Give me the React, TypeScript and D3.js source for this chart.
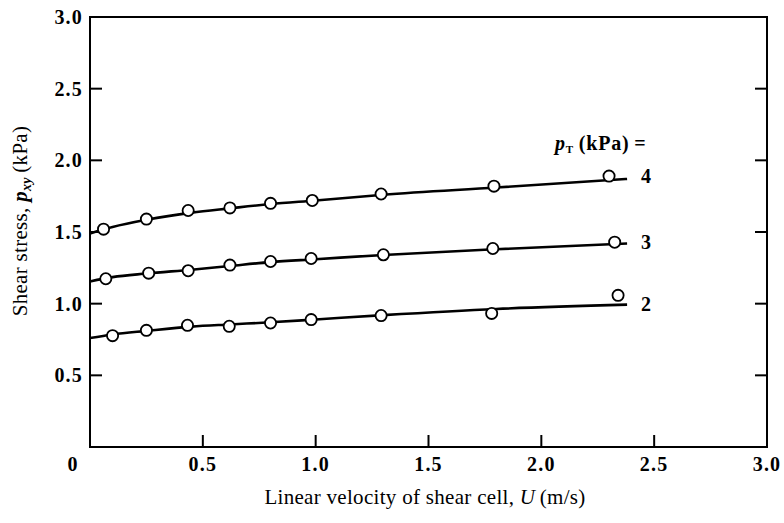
import React from "react";
import * as d3 from "d3";

// measured points, U (m/s) vs p_xy (kPa), one list per normal stress
const pressures = ["4", "3", "2"];
const uPts4 = [0.06, 0.25, 0.435, 0.62, 0.8, 0.985, 1.29, 1.79, 2.3];
const pPts4 = [1.52, 1.59, 1.65, 1.668, 1.7, 1.72, 1.765, 1.82, 1.89];
const uPts3 = [0.07, 0.26, 0.435, 0.62, 0.8, 0.98, 1.3, 1.785, 2.325];
const pPts3 = [1.174, 1.213, 1.23, 1.269, 1.294, 1.315, 1.341, 1.385, 1.429];
const uPts2 = [0.1, 0.25, 0.432, 0.617, 0.8, 0.98, 1.29, 1.78, 2.34];
const pPts2 = [0.777, 0.814, 0.849, 0.842, 0.865, 0.889, 0.917, 0.932, 1.058];

// fitted curves drawn through the points
const uFit = [0, 0.1, 0.25, 0.45, 0.62, 0.8, 1.0, 1.3, 1.8, 2.38];
const pFit4 = [1.49, 1.535, 1.585, 1.635, 1.665, 1.695, 1.72, 1.76, 1.81, 1.87];
const pFit3 = [1.155, 1.185, 1.21, 1.237, 1.263, 1.29, 1.31, 1.34, 1.38, 1.42];
const pFit2 = [0.76, 0.785, 0.81, 0.84, 0.855, 0.87, 0.89, 0.92, 0.963, 0.993];

const xTicks = [0, 0.5, 1.0, 1.5, 2.0, 2.5, 3.0];
const yTicks = [0.5, 1.0, 1.5, 2.0, 2.5, 3.0];
const innerTicks = [0.5, 1.0, 1.5, 2.0, 2.5];

const W = 784;
const H = 523;
const left = 90, right = 767, top = 17, bottom = 447;
const font = "'Liberation Serif', 'DejaVu Serif', serif";

export default function App() {
  const x = d3.scaleLinear().domain([0, 3]).range([left, right]);
  const y = d3.scaleLinear().domain([0, 3]).range([bottom, top]);

  const series = [
    { label: pressures[0], u: uPts4, p: pPts4, fit: pFit4 },
    { label: pressures[1], u: uPts3, p: pPts3, fit: pFit3 },
    { label: pressures[2], u: uPts2, p: pPts2, fit: pFit2 },
  ];

  const line = d3
    .line<number>()
    .x((_, i) => x(uFit[i]))
    .y((d) => y(d))
    .curve(d3.curveMonotoneX);

  const tickLen = 12;

  return (
    <svg
      width={W}
      height={H}
      style={{ position: "absolute", left: 0, top: 0, background: "#fff" }}
      fontFamily={font}
    >
      {/* frame */}
      <rect
        x={left}
        y={top}
        width={right - left}
        height={bottom - top}
        fill="none"
        stroke="#000"
        strokeWidth={2}
      />
      {innerTicks.map((t) => (
        <g key={"t" + t} stroke="#000" strokeWidth={2}>
          <line x1={x(t)} x2={x(t)} y1={bottom} y2={bottom - tickLen} />
          <line x1={left} x2={left + tickLen} y1={y(t)} y2={y(t)} />
          <line x1={right} x2={right - tickLen} y1={y(t)} y2={y(t)} />
        </g>
      ))}

      {/* tick labels */}
      {xTicks.map((t) => (
        <text
          key={"xl" + t}
          x={t === 0 ? x(0) - 17 : x(t)}
          y={bottom + 24}
          fontSize={20}
          fontWeight="bold"
          letterSpacing={1.2}
          textAnchor="middle"
        >
          {t === 0 ? "0" : t.toFixed(1)}
        </text>
      ))}
      {yTicks.map((t) => (
        <text
          key={"yl" + t}
          x={left - 7}
          y={y(t) + 7}
          fontSize={20}
          fontWeight="bold"
          letterSpacing={1.2}
          textAnchor="end"
        >
          {t.toFixed(1)}
        </text>
      ))}

      {/* axis titles */}
      <text x={425} y={504} fontSize={21} textAnchor="middle" letterSpacing={0.3}>
        Linear velocity of shear cell, <tspan fontStyle="italic">U</tspan>
        {"\u2009(m/s)"}
      </text>
      <text
        transform={`translate(27,221) rotate(-90)`}
        fontSize={21}
        textAnchor="middle"
        letterSpacing={0.3}
      >
        Shear stress, <tspan fontStyle="italic" fontWeight="bold">p</tspan>
        <tspan fontStyle="italic" fontWeight="bold" fontSize={14} dy={4}>
          xy
        </tspan>
        <tspan dy={-4}>{"\u2009(kPa)"}</tspan>
      </text>

      {/* curves and points */}
      {series.map((s) => (
        <g key={s.label}>
          <path
            d={line(s.fit) ?? ""}
            fill="none"
            stroke="#000"
            strokeWidth={2.6}
          />
          {s.u.map((u, i) => (
            <circle
              key={i}
              cx={x(u)}
              cy={y(s.p[i])}
              r={5.6}
              fill="#fff"
              stroke="#000"
              strokeWidth={1.8}
            />
          ))}
          <text
            x={x(uFit[uFit.length - 1]) + 14}
            y={y(s.fit[s.fit.length - 1]) + 4 + (s.label === "4" ? 0 : 2)}
            fontSize={20}
            fontWeight="bold"
          >
            {s.label}
          </text>
        </g>
      ))}

      {/* legend heading */}
      <text x={555} y={150} fontSize={20} fontWeight="bold" letterSpacing={0.8}>
        <tspan fontStyle="italic">p</tspan>
        <tspan fontSize={11} dy={3}>
          T
        </tspan>
        <tspan dy={-3}>{"\u2009(kPa)\u2009="}</tspan>
      </text>
    </svg>
  );
}
